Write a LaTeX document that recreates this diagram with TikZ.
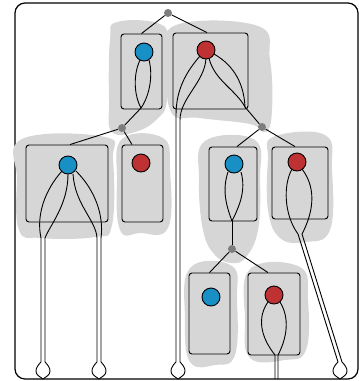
\documentclass[tikz,border=0pt]{standalone}
\usepackage{xcolor}
\definecolor{leafblue}{RGB}{24,144,198}
\definecolor{leafred}{RGB}{190,50,52}
\definecolor{shade}{RGB}{214,214,214}
\definecolor{knotgray}{RGB}{125,125,125}
\tikzset{
  blob/.style={fill=shade, draw=none},
  cell/.style={draw, fill=shade, rounded corners=3pt, line width=0.9pt, inner sep=0pt},
  ball/.style={circle, draw, line width=0.9pt, minimum size=18pt, inner sep=0pt},
  knot/.style={circle, fill=knotgray, minimum size=8pt, inner sep=0pt},
  strand/.style={line width=0.9pt},
}

\begin{document}
\begin{tikzpicture}[x=1pt,y=-1pt]
  \useasboundingbox (0,0) rectangle (359,381);

  % Outer frame
  \draw[line width=1.2pt, rounded corners=10pt] (15,3) rectangle (358,379);

  % Shaded blobs
  \fill[blob] plot[smooth cycle, tension=0.7] coordinates {(117,22) (160,24) (168,45) (167,100) (158,118) (138,131) (112,132) (109,100) (110,40)};
  \fill[blob] plot[smooth cycle, tension=0.7] coordinates {(176,25) (258,26) (270,60) (272,110) (266,132) (250,124) (200,118) (171,112) (168,60)};
  \fill[blob] plot[smooth cycle, tension=0.7] coordinates {(22,139) (105,137) (113,160) (112,225) (95,237) (40,238) (19,230) (17,180)};
  \fill[blob] plot[smooth cycle, tension=0.7] coordinates {(122,139) (163,138) (170,170) (168,228) (140,233) (120,230) (117,180)};
  \fill[blob] plot[smooth cycle, tension=0.7] coordinates {(205,141) (255,140) (260,180) (258,230) (246,257) (232,263) (215,255) (203,230) (199,180)};
  \fill[blob] plot[smooth cycle, tension=0.7] coordinates {(273,137) (325,135) (332,170) (330,230) (305,242) (280,238) (268,210) (268,160)};
  \fill[blob] plot[smooth cycle, tension=0.7] coordinates {(190,268) (232,266) (237,300) (235,355) (215,365) (190,362) (185,320)};
  \fill[blob] plot[smooth cycle, tension=0.7] coordinates {(250,269) (300,267) (308,300) (306,350) (285,360) (250,358) (245,320)};

  % Boxes
  \node[cell, minimum width=41pt, minimum height=75pt] (tl) at (141.5,71.5) {};
  \node[cell, minimum width=75pt, minimum height=76pt] (tr) at (210.5,71) {};
  \node[cell, minimum width=82pt, minimum height=77pt] (lm) at (67,183.5) {};
  \node[cell, minimum width=41pt, minimum height=77pt] (lr) at (142.5,183.5) {};
  \node[cell, minimum width=48pt, minimum height=74pt] (rb) at (233,184) {};
  \node[cell, minimum width=56pt, minimum height=72pt] (rr) at (300,183) {};
  \node[cell, minimum width=41pt, minimum height=81pt] (bb) at (209.5,313.5) {};
  \node[cell, minimum width=52pt, minimum height=82pt] (br) at (274,314) {};

  % Branch points
  \node[knot] (rootdot) at (168,13) {};
  \node[knot] (k1) at (122,128) {};
  \node[knot] (k2) at (262,127) {};
  \node[knot] (k3) at (232,249) {};
  \coordinate (tlend) at (141,108);
  \coordinate (trend) at (245,107);
  \coordinate (rbend) at (232,221);

  % Strands: short loops
  \draw[strand] (140,60) .. controls (133,75) and (134,95) .. (tlend);
  \draw[strand] (149,60) .. controls (153,75) and (150,95) .. (tlend);
  \draw[strand] (209,58) .. controls (214,80) and (236,90) .. (trend);
  \draw[strand] (214,54) .. controls (235,66) and (244,85) .. (trend);
  \draw[strand] (228,172) .. controls (222,190) and (226,205) .. (rbend);
  \draw[strand] (241,172) .. controls (246,190) and (240,205) .. (rbend);
  \draw[strand] (268,302) .. controls (258,316) and (259,335) .. (275,355) -- (275,379);
  \draw[strand] (280,302) .. controls (290,318) and (287,338) .. (278,355) -- (278,379);

  % Strands: long loops down to the frame
  \draw[strand] (200,56) .. controls (186,72) and (176,90) .. (176,115) -- (176,362)
    .. controls +(-3,3) and +(0,-3) .. ++(-5,9)
    .. controls +(0,4) and +(-4,-3) .. ++(7,8)
    .. controls +(4,-3) and +(0,4) .. ++(7,-8)
    .. controls +(0,-3) and +(3,3) .. ++(-5,-9)
    -- (180,120) .. controls (180,98) and (205,82) .. (206,58);
  \draw[strand] (62,171) .. controls (45,190) and (36,215) .. (41,238) -- (41,362)
    .. controls +(-3,3) and +(0,-3) .. ++(-5,9)
    .. controls +(0,4) and +(-4,-3) .. ++(7,8)
    .. controls +(4,-3) and +(0,4) .. ++(7,-8)
    .. controls +(0,-3) and +(3,3) .. ++(-5,-9)
    -- (45,238) .. controls (50,225) and (68,205) .. (68,174);
  \draw[strand] (73,174) .. controls (75,205) and (96,220) .. (97,238) -- (97,362)
    .. controls +(-3,3) and +(0,-3) .. ++(-5,9)
    .. controls +(0,4) and +(-4,-3) .. ++(7,8)
    .. controls +(4,-3) and +(0,4) .. ++(7,-8)
    .. controls +(0,-3) and +(3,3) .. ++(-5,-9)
    -- (101,238) .. controls (104,215) and (95,190) .. (76,171);
  \draw[strand] (292,169) .. controls (283,185) and (284,215) .. (298,234) -- (338,362)
    .. controls +(-3,3) and +(0,-3) .. ++(-5,9)
    .. controls +(0,4) and +(-4,-3) .. ++(7,8)
    .. controls +(4,-3) and +(0,4) .. ++(7,-8)
    .. controls +(0,-3) and +(3,3) .. ++(-5,-9)
    -- (302,234) .. controls (312,215) and (318,190) .. (302,169);

  % Tree edges
  \draw[strand] (rootdot) -- (tl.north);
  \draw[strand] (rootdot) -- ([xshift=-3.5pt]tr.north);
  \draw[strand] (tlend) -- (k1);
  \draw[strand] (trend) -- (k2);
  \draw[strand] (k1) -- ([xshift=3pt]lm.north);
  \draw[strand] (k1) -- ([xshift=-10.5pt]lr.north);
  \draw[strand] (k2) -- ([xshift=4pt]rb.north);
  \draw[strand] (k2) -- ([xshift=-5pt]rr.north);
  \draw[strand] (rbend) -- (k3);
  \draw[strand] (k3) -- (bb.north);
  \draw[strand] (k3) -- ([xshift=-6pt]br.north);

  % Leaves
  \node[ball, fill=leafblue] (b1) at (144,52) {};
  \node[ball, fill=leafred] (r1) at (206,50) {};
  \node[ball, fill=leafblue] (b2) at (68,165) {};
  \node[ball, fill=leafred] (r2) at (141,163) {};
  \node[ball, fill=leafblue] (b3) at (234,164) {};
  \node[ball, fill=leafred] (r3) at (297,162) {};
  \node[ball, fill=leafblue] (b4) at (211,297) {};
  \node[ball, fill=leafred] (r4) at (274,295) {};
\end{tikzpicture}
\end{document}
